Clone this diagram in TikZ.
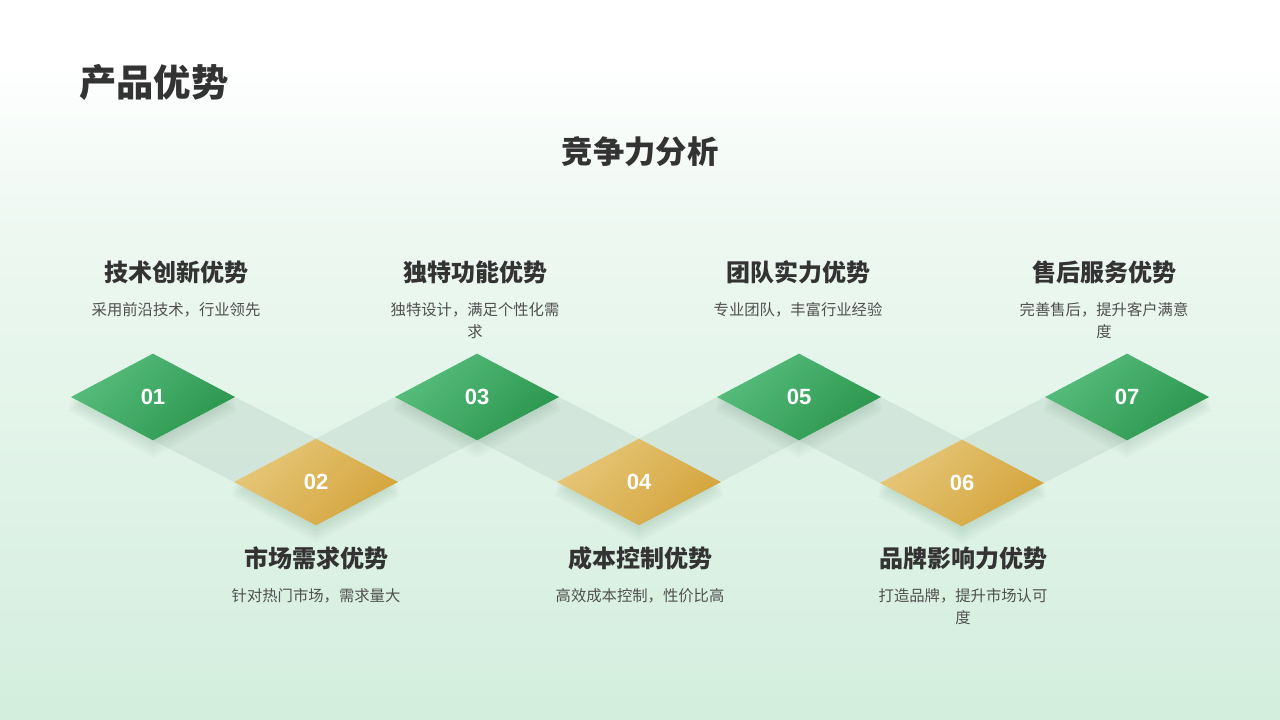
\documentclass[tikz,border=0pt]{standalone}
\usepackage{fontspec}
\setmainfont{Noto Sans CJK SC}
\newfontfamily\numfont{Liberation Sans}
\usepackage{tikz}
\usetikzlibrary{shapes.geometric, positioning}
\definecolor{bgbottom}{HTML}{D3EEDD}
\definecolor{bgmid}{HTML}{EDF8F1}
\definecolor{greenlight}{HTML}{57BD7D}
\definecolor{greendark}{HTML}{2B964E}
\definecolor{goldlight}{HTML}{E6C779}
\definecolor{golddark}{HTML}{D4A43C}
\definecolor{bandcol}{HTML}{C9DDD2}
\definecolor{shadowcol}{HTML}{2F6B45}
\definecolor{textdark}{HTML}{333333}
\definecolor{textgray}{HTML}{505050}
\tikzstyle{dia} = [diamond, minimum width=123pt, minimum height=65pt, inner sep=0pt, outer sep=0pt, text=white, font=\numfont\bfseries\fontsize{16.5}{18}\selectfont]
\tikzstyle{greendia} = [dia, left color=greenlight, right color=greendark, shading angle=45]
\tikzstyle{golddia} = [dia, left color=goldlight, right color=golddark, shading angle=45]
\tikzstyle{band} = [fill=bandcol, opacity=0.6]
\tikzstyle{softshadow} = [fill=shadowcol, opacity=0.03]
\tikzstyle{headtext} = [inner sep=0pt, text=textdark, font=\bfseries\fontsize{18}{21}\selectfont]
\tikzstyle{desctext} = [inner sep=0pt, text=textgray, align=center, font=\fontsize{11.5}{16.5}\selectfont]
\pgfdeclarelayer{bg}
\pgfdeclarelayer{bandlayer}
\pgfsetlayers{bg,bandlayer,main}

\begin{document}
\begin{tikzpicture}[x=0.75pt, y=-0.75pt]
    \useasboundingbox (0,0) rectangle (1280,720);
    \begin{pgfonlayer}{bg}
        \fill[white] (0,0) rectangle (1280,60);
        \shade[top color=white, bottom color=bgmid] (0,60) rectangle (1280,230);
        \shade[top color=bgmid, bottom color=bgbottom] (0,230) rectangle (1280,720);
    \end{pgfonlayer}

    % headings
    \node (title) [anchor=west, inner sep=0pt, text=textdark, font=\bfseries\fontsize{28}{32}\selectfont] at (79,82) {产品优势};
    \node (sub) [inner sep=0pt, text=textdark, font=\bfseries\fontsize{23.5}{28}\selectfont] at (640,152) {竞争力分析};

    % diamonds
    \node (d1) [greendia] at (153,397) {01};
    \node (d2) [golddia] at (316,482) {02};
    \node (d3) [greendia] at (477,397) {03};
    \node (d4) [golddia] at (639,482) {04};
    \node (d5) [greendia] at (799,397) {05};
    \node (d6) [golddia] at (962,483) {06};
    \node (d7) [greendia] at (1127,397) {07};

    % bands between diamonds, soft shadows under diamonds
    \begin{pgfonlayer}{bandlayer}
        \fill[band] (d1.east) -- (d2.north) -- (d2.west) -- (d1.south) -- cycle;
        \fill[band] (d2.north) -- (d3.west) -- (d3.south) -- (d2.east) -- cycle;
        \fill[band] (d3.east) -- (d4.north) -- (d4.west) -- (d3.south) -- cycle;
        \fill[band] (d4.north) -- (d5.west) -- (d5.south) -- (d4.east) -- cycle;
        \fill[band] (d5.east) -- (d6.north) -- (d6.west) -- (d5.south) -- cycle;
        \fill[band] (d6.north) -- (d7.west) -- (d7.south) -- (d6.east) -- cycle;
        \foreach \d in {d1,d2,d3,d4,d5,d6,d7}
            \foreach \s in {2,4,6,8,10}
                \fill[softshadow] ([yshift=-\s pt]\d.north) -- ([xshift=0.2*\s pt, yshift=-\s pt]\d.east) -- ([yshift=-1.3*\s pt]\d.south) -- ([xshift=-0.2*\s pt, yshift=-\s pt]\d.west) -- cycle;
    \end{pgfonlayer}

    % upper texts
    \node (t1) [headtext] at (176,272) {技术创新优势};
    \node (s1) [desctext, below=14pt of t1] {采用前沿技术，行业领先};
    \node (t3) [headtext] at (475,272) {独特功能优势};
    \node (s3) [desctext, below=14pt of t3] {独特设计，满足个性化需\\求};
    \node (t5) [headtext] at (798,272) {团队实力优势};
    \node (s5) [desctext, below=14pt of t5] {专业团队，丰富行业经验};
    \node (t7) [headtext] at (1104,272) {售后服务优势};
    \node (s7) [desctext, below=14pt of t7] {完善售后，提升客户满意\\度};

    % lower texts
    \node (t2) [headtext] at (316,558) {市场需求优势};
    \node (s2) [desctext, below=14pt of t2] {针对热门市场，需求量大};
    \node (t4) [headtext] at (640,558) {成本控制优势};
    \node (s4) [desctext, below=14pt of t4] {高效成本控制，性价比高};
    \node (t6) [headtext] at (963,558) {品牌影响力优势};
    \node (s6) [desctext, below=14pt of t6] {打造品牌，提升市场认可\\度};
\end{tikzpicture}
\end{document}
